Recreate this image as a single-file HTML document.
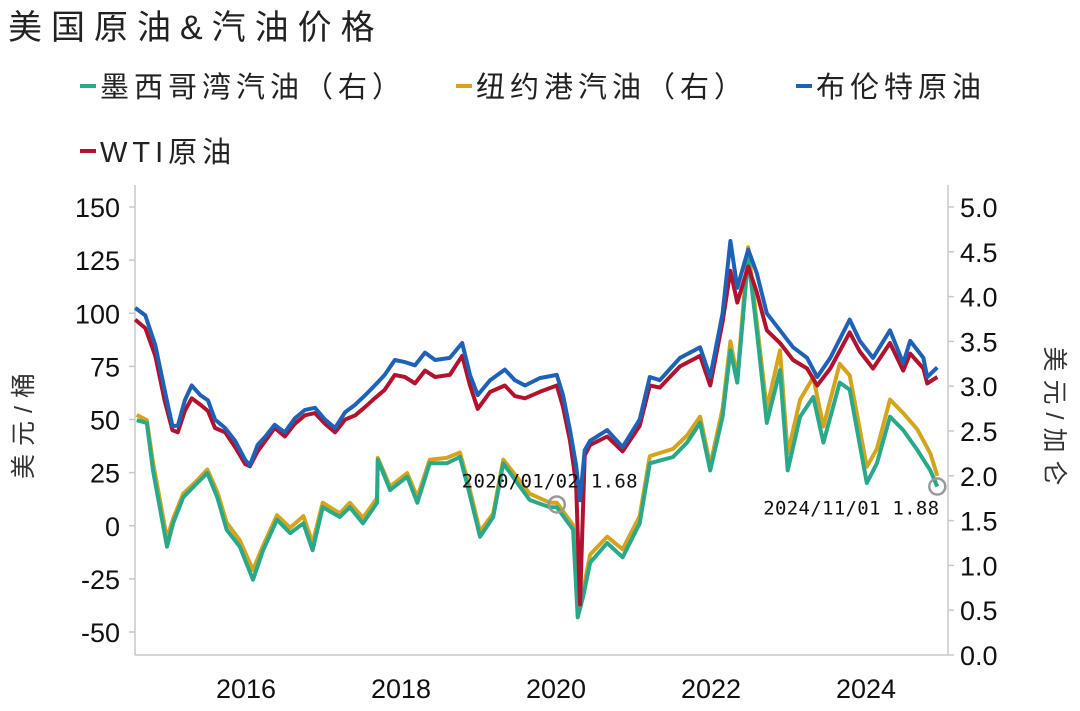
<!DOCTYPE html>
<html><head><meta charset="utf-8"><style>
html,body{margin:0;padding:0;background:#fff;}
body{width:1080px;height:706px;overflow:hidden;font-family:"Liberation Sans","Noto Sans CJK SC",sans-serif;}
</style></head><body>
<svg id="chart" width="1080" height="706" xmlns="http://www.w3.org/2000/svg" font-family="Liberation Sans, Noto Sans CJK SC, sans-serif">
<text x="8" y="39" font-size="34" letter-spacing="9" fill="#222">美国原油&amp;汽油价格</text>
<g font-size="29" fill="#222" letter-spacing="5">
 <g><line x1="80" y1="86" x2="96" y2="86" stroke="#2aa88a" stroke-width="4"/><text x="100" y="97">墨西哥湾汽油（右）</text></g>
 <g><line x1="456" y1="86" x2="472" y2="86" stroke="#d4a41c" stroke-width="4"/><text x="476" y="97">纽约港汽油（右）</text></g>
 <g><line x1="796" y1="86" x2="812" y2="86" stroke="#1d62b8" stroke-width="4"/><text x="816" y="97">布伦特原油</text></g>
 <g><line x1="80" y1="151" x2="96" y2="151" stroke="#b3122e" stroke-width="4"/><text x="100" y="162">WTI原油</text></g>
</g>
<g id="axes"></g>
<g id="series"></g>
<text transform="translate(32,422) rotate(-90)" text-anchor="middle" font-size="25" letter-spacing="8" fill="#333">美元/桶</text>
<text transform="translate(1046,420) rotate(90)" text-anchor="middle" font-size="25" letter-spacing="8" fill="#333">美元/加仑</text>
</svg>
<script>
const brentDates=[2014.57,2014.70,2014.83,2014.95,2015.05,2015.12,2015.21,2015.30,2015.41,2015.51,2015.60,2015.73,2015.86,2015.99,2016.05,2016.15,2016.25,2016.37,2016.50,2016.63,2016.76,2016.89,2017.02,2017.15,2017.28,2017.41,2017.54,2017.66,2017.79,2017.92,2018.05,2018.18,2018.31,2018.44,2018.63,2018.79,2018.89,2018.99,2019.15,2019.34,2019.47,2019.60,2019.79,2020.01,2020.09,2020.18,2020.26,2020.31,2020.37,2020.44,2020.66,2020.86,2021.08,2021.21,2021.34,2021.60,2021.86,2021.99,2022.15,2022.25,2022.34,2022.48,2022.59,2022.72,2022.89,2023.06,2023.24,2023.37,2023.54,2023.79,2023.92,2024.09,2024.31,2024.48,2024.57,2024.74,2024.79,2024.92];
const brentValues=[102.5,99,85,64,47,47,59,66,61.5,59,50,46,40,31,28.5,38,42,47.5,44,50.5,54.5,55.5,50,46,53.5,57,61.5,66,71,78,77,75.5,81.5,78,79,86,71,61.5,68.5,73.5,68.5,66,69.5,71,61.5,45,28.5,12,35.5,40,45,37,50,70,68.5,79,84,70,100,134,112,130,119,100,92,84,79,70,79,97,87,79,92,76.5,87,79,70,74.5];
const wtiValues=[97,93,80,59,45,44,54,60,57,54,46,44,37,29,28,35,40,46,42,48,52,53,48,44,50,52,56,60,64,71,70,67,73,70,71,80,66,55,63,66,61,60,63,66,56,40,20,-37,33,38,42,35,47,66,65,75,80,66,96,120,105,122,110,92,86,78,74,66,74,91,82,74,86,73,81,74,67,70];
const gasDates=[2014.59,2014.72,2014.80,2014.98,2015.06,2015.19,2015.37,2015.50,2015.63,2015.75,2015.92,2016.09,2016.22,2016.40,2016.57,2016.74,2016.86,2016.99,2017.21,2017.34,2017.51,2017.69,2017.70,2017.86,2018.08,2018.21,2018.37,2018.59,2018.76,2018.85,2019.02,2019.19,2019.32,2019.50,2019.66,2019.92,2020.01,2020.22,2020.28,2020.35,2020.44,2020.66,2020.86,2021.08,2021.21,2021.51,2021.69,2021.86,2021.99,2022.15,2022.25,2022.34,2022.48,2022.59,2022.72,2022.89,2022.99,2023.15,2023.32,2023.45,2023.66,2023.79,2024.01,2024.14,2024.31,2024.48,2024.66,2024.83,2024.92];
const gulfValues=[2.62,2.59,2.06,1.21,1.47,1.76,1.92,2.03,1.76,1.40,1.21,0.84,1.17,1.51,1.36,1.47,1.17,1.65,1.54,1.65,1.47,1.70,2.18,1.84,1.99,1.70,2.14,2.14,2.21,1.92,1.32,1.54,2.14,1.92,1.73,1.65,1.65,1.40,0.42,0.65,1.03,1.25,1.09,1.47,2.14,2.21,2.37,2.59,2.06,2.66,3.40,3.04,4.44,3.63,2.59,3.18,2.06,2.66,2.88,2.37,3.04,2.96,1.92,2.14,2.66,2.51,2.29,2.06,1.88];
const nyValues=[2.68,2.62,2.15,1.30,1.52,1.80,1.95,2.07,1.82,1.48,1.28,0.95,1.22,1.56,1.42,1.55,1.25,1.70,1.58,1.70,1.53,1.75,2.20,1.88,2.03,1.76,2.18,2.20,2.26,1.98,1.38,1.58,2.18,1.98,1.80,1.70,1.70,1.45,0.48,0.72,1.12,1.32,1.18,1.55,2.22,2.30,2.45,2.66,2.12,2.75,3.50,3.10,4.55,3.72,2.75,3.40,2.25,2.85,3.10,2.55,3.25,3.12,2.10,2.30,2.85,2.70,2.52,2.25,2.00];
const leftTicks=[150,125,100,75,50,25,0,-25,-50];
const rightTicks=["5.0","4.5","4.0","3.5","3.0","2.5","2.0","1.5","1.0","0.5","0.0"];
const yearTicks=[2016,2018,2020,2022,2024];
const annotDates=[2020.01,2024.92];
const annotValues=[1.68,1.88];
const annotLabels=["2020/01/02  1.68","2024/11/01  1.88"];

const NS="http://www.w3.org/2000/svg";
const X0=135,X1=948,YB=655,YT=185;
const xS=t=>246+(t-2016)*77.5;
const yL=v=>525.75-v*2.125;
const yR=g=>655-g*89.6;
function mk(tag,attrs,parent){const e=document.createElementNS(NS,tag);for(const k in attrs)e.setAttribute(k,attrs[k]);parent.appendChild(e);return e;}
const axes=document.getElementById('axes'),series=document.getElementById('series');

let a=mk('line',{x1:X0,y1:YT,x2:X0,y2:YB,stroke:'#c8c8c8','stroke-width':1.5},axes);


a=mk('line',{x1:X1,y1:YT,x2:X1,y2:YB,stroke:'#c8c8c8','stroke-width':1.5},axes);


a=mk('line',{x1:X0,y1:YB,x2:X1,y2:YB,stroke:'#c8c8c8','stroke-width':1.5},axes);



leftTicks.forEach(v=>{
 const y=yL(v);
 const tk=mk('line',{x1:X0-6,y1:y,x2:X0,y2:y,stroke:'#c8c8c8','stroke-width':1.5},axes);
 
 
 const t=mk('text',{x:120,y:y+10,'text-anchor':'end','font-size':27,fill:'#111'},axes);
 t.textContent=v;
 
 
});
rightTicks.forEach(s=>{
 const y=yR(parseFloat(s));
 const tk=mk('line',{x1:X1,y1:y,x2:X1+6,y2:y,stroke:'#c8c8c8','stroke-width':1.5},axes);
 
 
 const t=mk('text',{x:960,y:y+10,'text-anchor':'start','font-size':27,fill:'#111'},axes);
 t.textContent=s;
 
 
});
yearTicks.forEach(yr=>{
 const x=xS(yr);
 const t=mk('text',{x:x,y:698,'text-anchor':'middle','font-size':27,fill:'#111'},axes);
 t.textContent=yr;
 
 
});

function line(dates,vals,ys,color,name){
 const d=dates.map((t,i)=>(i?'L':'M')+xS(t).toFixed(1)+','+ys(vals[i]).toFixed(1)).join('');
 const p=mk('path',{d:d,fill:'none',stroke:color,'stroke-width':4,'stroke-linejoin':'round'},series);
 
 
}
line(gasDates,nyValues,yR,'#d4a41c','ny-gasoline-line');
line(gasDates,gulfValues,yR,'#2aa88a','gulf-gasoline-line');
line(brentDates,wtiValues,yL,'#b3122e','wti-line');
line(brentDates,brentValues,yL,'#1d62b8','brent-line');

annotDates.forEach((t,i)=>{
 const cx=xS(t),cy=yR(annotValues[i]);
 const c=mk('circle',{cx:cx,cy:cy,r:8,fill:'none',stroke:'#999','stroke-width':2.5},series);
 
 
 const tx=mk('text',{x:i===0?cx-95:cx-174,y:i===0?cy-17:cy+28,'font-size':19,'letter-spacing':0.3,fill:'#111','font-family':'DejaVu Sans Mono, Liberation Mono, monospace','xml:space':'preserve'},series);
 tx.textContent=annotLabels[i];
 
 
});
</script>
</body></html>
